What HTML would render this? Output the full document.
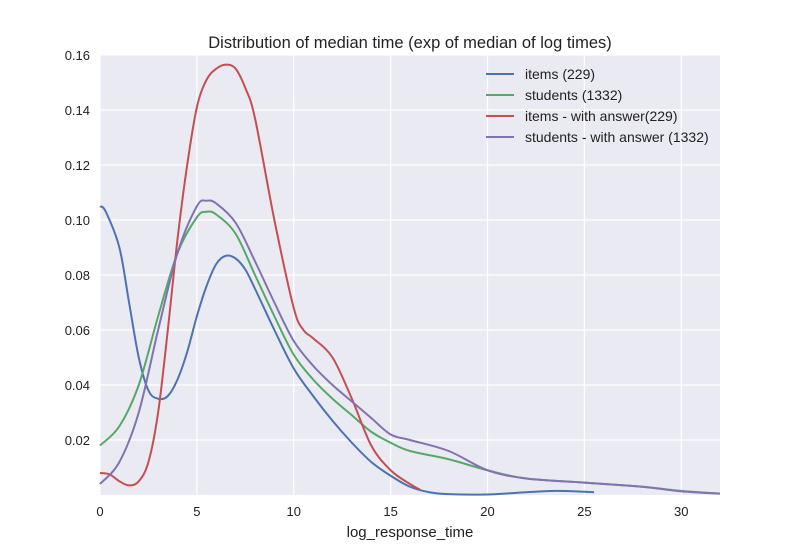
<!DOCTYPE html>
<html><head><meta charset="utf-8"><style>
body{margin:0;background:#fff;}
svg text{font-family:"Liberation Sans",sans-serif;fill:#222;}
</style></head><body>
<svg id="chart" width="800" height="550">
<rect x="100" y="55" width="620" height="440" fill="#eaeaf2"/>
<g id="grid"></g><g id="ticks"></g><g id="lines"></g>
<text x="410" y="48" text-anchor="middle" font-size="16.5">Distribution of median time (exp of median of log times)</text>
<text x="410" y="537" text-anchor="middle" font-size="15">log_response_time</text>
<g id="legend"></g>
</svg>
<script>
const xTicks=[0,5,10,15,20,25,30];
const yTicks=[0.02,0.04,0.06,0.08,0.10,0.12,0.14,0.16];
const yTickLabels=["0.02","0.04","0.06","0.08","0.10","0.12","0.14","0.16"];
const seriesNames=["items (229)","students (1332)","items - with answer(229)","students - with answer (1332)"];
const seriesColors=["#4c72b0","#55a868","#c44e52","#8172b2"];
const itemsX=[0,0.3,1,1.5,2,2.5,3,3.5,4,4.5,5,5.5,6,6.5,7,7.5,8,9,10,11,12,13,14,15,16,17,18,20,22,23.5,25,25.5];
const itemsY=[.105,.103,.09,.07,.05,.038,.035,.036,.042,.052,.065,.076,.084,.087,.086,.082,.075,.06,.046,.036,.027,.019,.012,.007,.003,.001,.0003,.0002,.001,.0015,.0012,.001];
const studentsX=[0,1,2,3,4,5,5.5,6,7,8,9,10,11,12,13,14,15,16,18,20,22,25,28,30,32];
const studentsY=[.018,.025,.04,.065,.088,.101,.103,.102,.095,.08,.065,.051,.042,.035,.029,.023,.019,.016,.013,.009,.006,.0045,.003,.0015,.0005];
const itemsAnsX=[0,0.5,1,1.5,2,2.5,3,3.5,4,4.5,5,5.5,6,6.5,7,7.5,8,9,10,10.5,11,12,13,14,15,16,16.5];
const itemsAnsY=[.008,.0075,.005,.0035,.005,.012,.03,.06,.093,.12,.141,.151,.155,.1565,.155,.148,.137,.1,.068,.06,.057,.05,.035,.018,.009,.004,.002];
const studentsAnsX=[0,1,2,3,4,5,5.5,6,7,8,9,10,11,12,13,14,15,16,18,20,22,25,28,30,32];
const studentsAnsY=[.004,.012,.03,.06,.088,.105,.107,.106,.099,.085,.07,.056,.047,.04,.034,.028,.022,.02,.016,.009,.006,.0045,.003,.0013,.0005];
const NS="http://www.w3.org/2000/svg";
const sx=v=>100+v*620/32, sy=v=>495-v*440/0.16;
function mk(tag,attrs,parent){const e=document.createElementNS(NS,tag);for(const k in attrs)e.setAttribute(k,attrs[k]);parent.appendChild(e);return e;}
const grid=document.getElementById('grid'),ticks=document.getElementById('ticks'),lines=document.getElementById('lines'),legend=document.getElementById('legend');
xTicks.forEach((t,i)=>{
 const l=mk('line',{x1:sx(t),x2:sx(t),y1:55,y2:495,stroke:'#fff','stroke-width':1.2},grid);
 
 
 const tx=mk('text',{x:sx(t),y:516,'text-anchor':'middle','font-size':13},ticks);tx.textContent=t;
 
 
});
yTicks.forEach((t,i)=>{
 const l=mk('line',{x1:100,x2:720,y1:sy(t),y2:sy(t),stroke:'#fff','stroke-width':1.2},grid);
 
 
 const tx=mk('text',{x:90,y:sy(t)+5,'text-anchor':'end','font-size':13},ticks);tx.textContent=yTickLabels[i];
 
 
});
function path(xs,ys){const p=xs.map((x,i)=>[sx(x),sy(ys[i])]);let d='M'+p[0][0]+','+p[0][1];
 for(let i=0;i<p.length-1;i++){const p0=p[Math.max(0,i-1)],p1=p[i],p2=p[i+1],p3=p[Math.min(p.length-1,i+2)];
 d+=' C'+(p1[0]+(p2[0]-p0[0])/6)+','+(p1[1]+(p2[1]-p0[1])/6)+' '+(p2[0]-(p3[0]-p1[0])/6)+','+(p2[1]-(p3[1]-p1[1])/6)+' '+p2[0]+','+p2[1];}return d;}
const data=[[itemsX,itemsY],[studentsX,studentsY],[itemsAnsX,itemsAnsY],[studentsAnsX,studentsAnsY]];
const lineNames=['items-line','students-line','items-with-answer-line','students-with-answer-line'];
data.forEach((s,i)=>{
 const p=mk('path',{d:path(s[0],s[1]),fill:'none',stroke:seriesColors[i],'stroke-width':2},lines);
 
 
 const g=mk('g',{},legend);
 
 
 const y=74+i*21;
 mk('line',{x1:486,x2:514,y1:y,y2:y,stroke:seriesColors[i],'stroke-width':2},g);
 const t=mk('text',{x:525,y:y+5,'font-size':14},g);t.textContent=seriesNames[i];
});
</script>
</body></html>
